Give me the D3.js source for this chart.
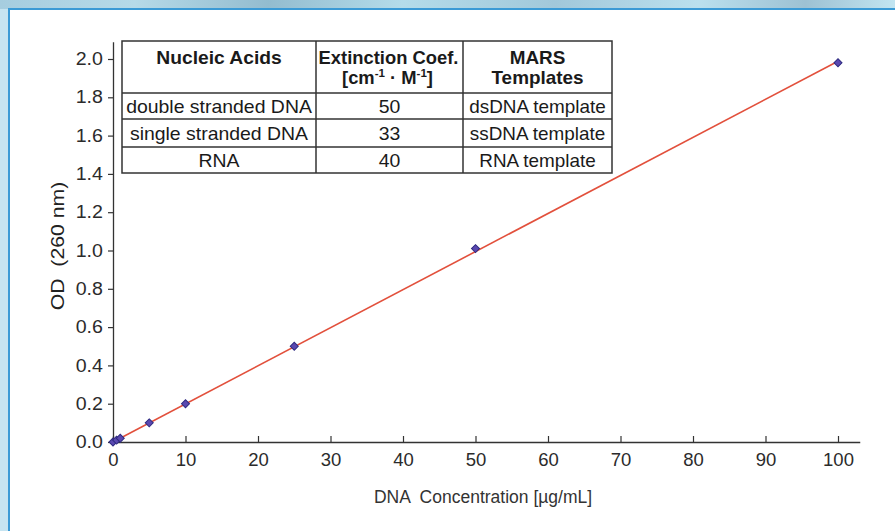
<!DOCTYPE html>
<html>
<head>
<meta charset="utf-8">
<script src="https://cdn.jsdelivr.net/npm/d3@7"></script>
<style>
  html, body { margin: 0; padding: 0; background: #c6e4f1; }
  svg { display: block; font-family: 'Liberation Sans', Arial, sans-serif; }
</style>
</head>
<body>
<div id="root"></div>
<script>
const width = 895;
const height = 531;
const margin = { top: 59, right: 57, bottom: 89, left: 113 };

// Data

const concentration = [0, 0.5, 1, 5, 10, 25, 50, 100];
const od = [0, 0.01, 0.02, 0.1, 0.2, 0.5, 1.01, 1.98];

const xTicks = [0, 10, 20, 30, 40, 50, 60, 70, 80, 90, 100];
const yTicks = [0, 0.2, 0.4, 0.6, 0.8, 1.0, 1.2, 1.4, 1.6, 1.8, 2.0];

const nucleicAcids = ['double stranded DNA', 'single stranded DNA', 'RNA'];
const extinction = [50, 33, 40];
const templates = ['dsDNA template', 'ssDNA template', 'RNA template'];

const points = concentration.map((c, i) => ({ c, od: od[i] }));

// Main canvas

const svg = d3
  .select('#root')
  .append('svg')
  .attr('width', width)
  .attr('height', height);

// places a text at (x, y) stretched horizontally by k
const place = (sel, x, y, k) =>
  sel.attr('transform', `translate(${x}, ${y}) scale(${k}, 1)`);

// Frame background

const defs = svg.append('defs');
const grad = defs
  .append('linearGradient')
  .attr('id', 'topStrip')
  .attr('x1', 0)
  .attr('x2', 1)
  .attr('y1', 0)
  .attr('y2', 0);
[
  ['0%', '#a6cddf'],
  ['15%', '#b6dae8'],
  ['30%', '#93bccf'],
  ['45%', '#b4dcea'],
  ['62%', '#a2c8da'],
  ['78%', '#bae0ee'],
  ['90%', '#9dc1d3'],
  ['100%', '#c2e5f1'],
].forEach(([o, c]) => grad.append('stop').attr('offset', o).attr('stop-color', c));

svg.append('rect').attr('width', width).attr('height', height).attr('fill', '#c6e4f1');
svg.append('rect').attr('width', width).attr('height', 9).attr('fill', 'url(#topStrip)');
svg
  .append('rect')
  .attr('x', 9)
  .attr('y', 9)
  .attr('width', width)
  .attr('height', height)
  .attr('fill', '#fff')
  .attr('stroke', '#3b9ad5')
  .attr('stroke-width', 2);

// Scales

const xScale = d3
  .scaleLinear()
  .domain([0, 103])
  .range([margin.left, margin.left + 103 * 7.25]);

const yScale = d3
  .scaleLinear()
  .domain([0, 2.09])
  .range([height - margin.bottom, height - margin.bottom - 2.09 * 191.5]);

// Axes

const xAxis = d3
  .axisBottom(xScale)
  .tickValues(xTicks)
  .tickFormat(d3.format('d'))
  .tickSizeInner(-6)
  .tickSizeOuter(0)
  .tickPadding(11);

const gx = svg
  .append('g')
  .attr('transform', `translate(0, ${yScale(0)})`)
  .call(xAxis);

const yAxis = d3
  .axisLeft(yScale)
  .tickValues(yTicks)
  .tickFormat(d3.format('.1f'))
  .tickSizeInner(5)
  .tickSizeOuter(0)
  .tickPadding(4);

const gy = svg
  .append('g')
  .attr('transform', `translate(${xScale(0)}, 0)`)
  .call(yAxis);

[gx, gy].forEach((g) => {
  g.attr('font-family', null).attr('font-size', null);
  g.select('.domain').attr('stroke', '#333').attr('stroke-width', 1.3);
  g.selectAll('.tick line').attr('stroke', '#333').attr('stroke-width', 1.2);
  g.selectAll('.tick text').attr('fill', '#2b2b2b');
});

gx.selectAll('.tick text').style('font-size', '18.5px');
gy.selectAll('.tick text')
  .style('font-size', '17.5px')
  .attr('transform', 'scale(1.12, 1)');

// Axis titles

svg
  .append('text')
  .attr('x', 483)
  .attr('y', 503)
  .attr('text-anchor', 'middle')
  .attr('fill', '#333')
  .style('font-size', '17.5px')
  .style('white-space', 'pre')
  .text('DNA  Concentration [µg/mL]');

svg
  .append('text')
  .attr('transform', 'translate(64, 246) rotate(-90) scale(1.18, 1)')
  .attr('text-anchor', 'middle')
  .attr('fill', '#222')
  .style('font-size', '18px')
  .style('white-space', 'pre')
  .text('OD  (260 nm)');

// Fit line (least squares through origin)

const slope = d3.sum(points, (d) => d.c * d.od) / d3.sum(points, (d) => d.c * d.c);

svg
  .append('path')
  .datum([0, d3.max(concentration)])
  .attr('fill', 'none')
  .attr('stroke', '#e2503c')
  .attr('stroke-width', 1.6)
  .attr(
    'd',
    d3
      .line()
      .x((d) => xScale(d))
      .y((d) => yScale(d * slope))
  );

// Data points

svg
  .selectAll('.pt')
  .data(points)
  .enter()
  .append('path')
  .attr('class', 'pt')
  .attr('transform', (d) => `translate(${xScale(d.c)}, ${yScale(d.od)}) rotate(45)`)
  .attr('d', d3.symbol().type(d3.symbolSquare).size(32))
  .attr('fill', '#5a48b0')
  .attr('stroke', '#2e2a80')
  .attr('stroke-width', 1);

// Table

const cols = [122, 316, 463, 612];
const rows = [41, 93, 119, 147, 173];

const table = svg.append('g');

table
  .append('rect')
  .attr('x', cols[0])
  .attr('y', rows[0])
  .attr('width', cols[3] - cols[0])
  .attr('height', rows[4] - rows[0])
  .attr('fill', '#fff')
  .attr('stroke', '#333')
  .attr('stroke-width', 1.5);

cols.slice(1, 3).forEach((x) =>
  table
    .append('line')
    .attr('x1', x)
    .attr('x2', x)
    .attr('y1', rows[0])
    .attr('y2', rows[4])
    .attr('stroke', '#333')
    .attr('stroke-width', 1.5)
);

rows.slice(1, 4).forEach((y) =>
  table
    .append('line')
    .attr('x1', cols[0])
    .attr('x2', cols[3])
    .attr('y1', y)
    .attr('y2', y)
    .attr('stroke', '#333')
    .attr('stroke-width', 1.5)
);

const mid = (i) => (cols[i] + cols[i + 1]) / 2;

const header = table
  .append('g')
  .attr('fill', '#1a1a1a')
  .attr('text-anchor', 'middle')
  .style('font-weight', 'bold')
  .style('font-size', '17.5px');

place(header.append('text').text('Nucleic Acids'), mid(0), 64, 1.1);
place(header.append('text').text('Extinction Coef.'), mid(1) - 1, 64, 1.05);
const unit = place(header.append('text'), mid(1) - 2, 84, 1.05);
unit.append('tspan').text('[cm');
unit.append('tspan').attr('dy', -7).style('font-size', '11px').text('-1');
unit.append('tspan').attr('dy', 7).text(' · M');
unit.append('tspan').attr('dy', -7).style('font-size', '11px').text('-1');
unit.append('tspan').attr('dy', 7).text(']');
place(header.append('text').text('MARS'), mid(2), 64, 1.08);
place(header.append('text').text('Templates'), mid(2), 84, 1.08);

const body = table
  .append('g')
  .attr('fill', '#1a1a1a')
  .attr('text-anchor', 'middle')
  .style('font-size', '18px');

const baselines = [113, 140, 167];

nucleicAcids.forEach((name, i) => {
  place(body.append('text').text(name), mid(0), baselines[i], 1.08);
  place(body.append('text').text(extinction[i]), mid(1), baselines[i], 1.08);
  place(body.append('text').text(templates[i]), mid(2), baselines[i], 1.05);
});
</script>
</body>
</html>
